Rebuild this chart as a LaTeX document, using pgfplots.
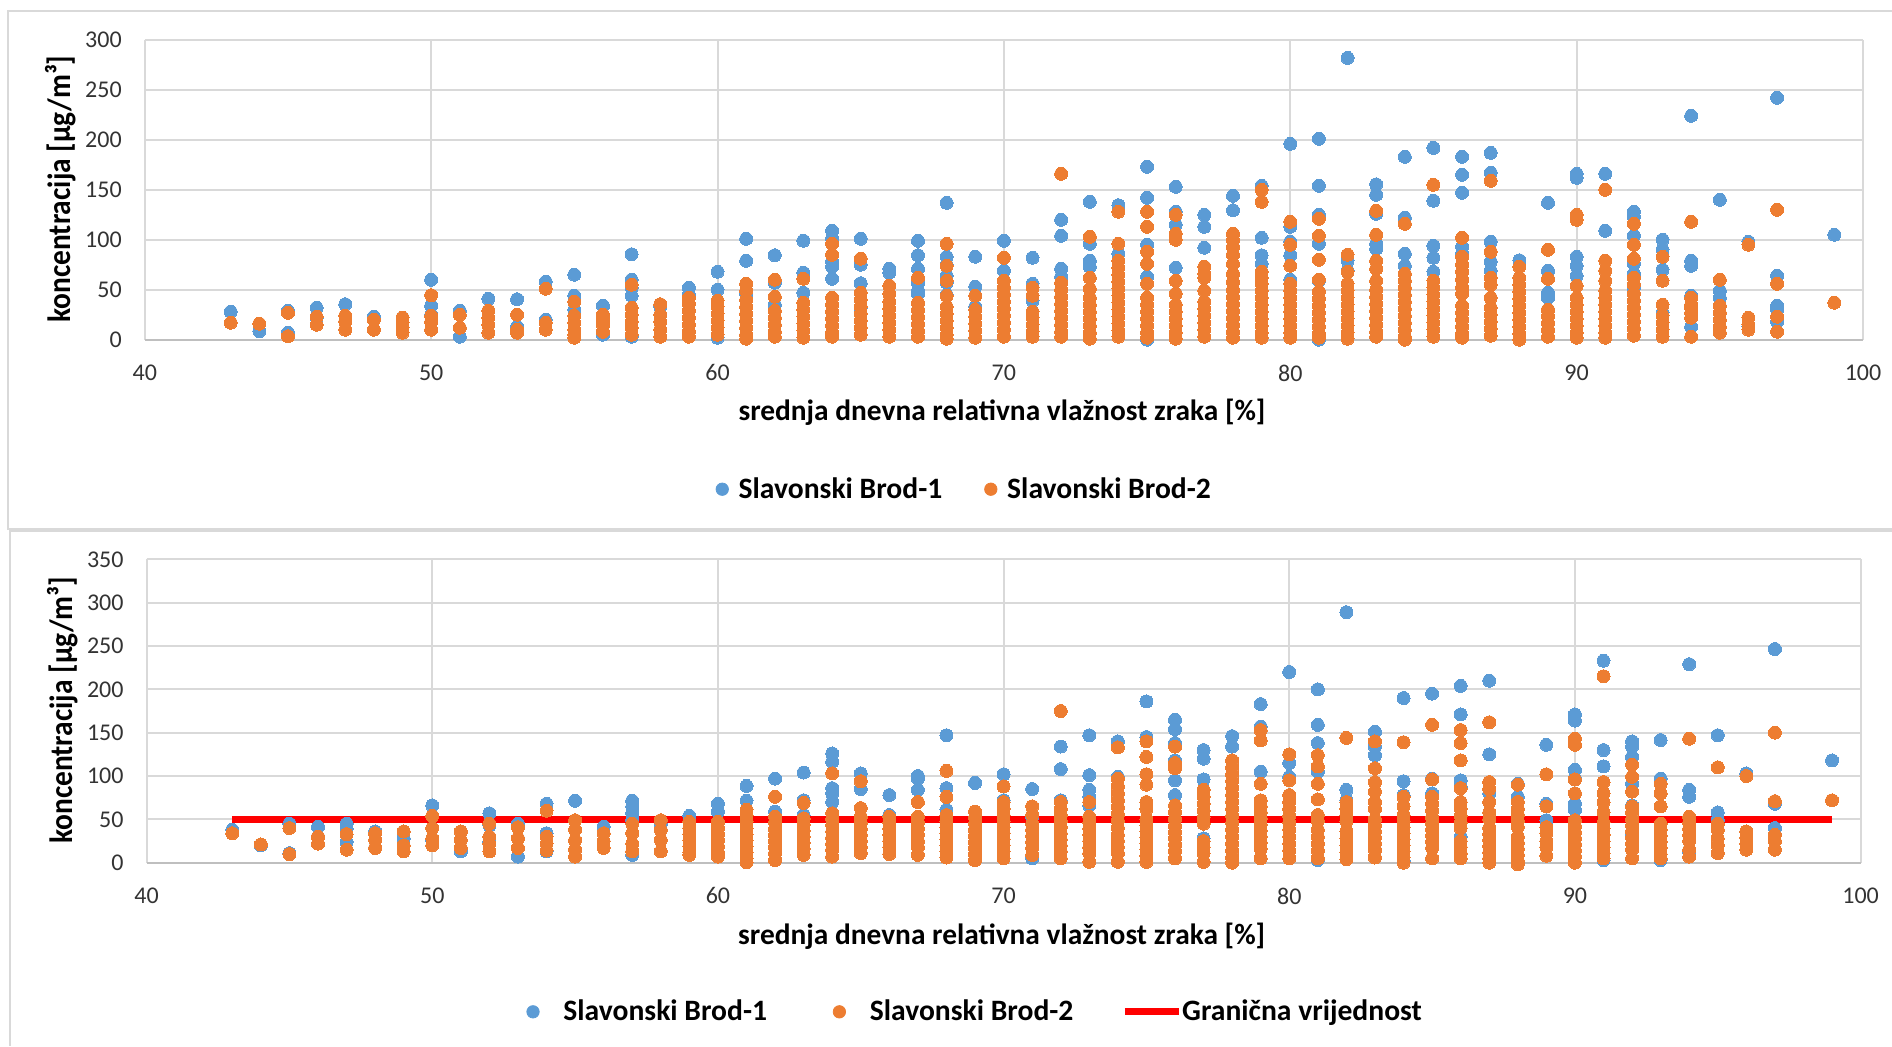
\documentclass[border=0pt]{standalone}
\usepackage{fontspec}
\setmainfont{Carlito}
\usepackage{pgfplots}
\pgfplotsset{compat=1.18}
\definecolor{sb1}{HTML}{5B9BD5}
\definecolor{sb2}{HTML}{ED7D31}
\definecolor{gridc}{HTML}{D9D9D9}
\definecolor{axc}{HTML}{BFBFBF}
\definecolor{tickc}{HTML}{333333}
\pgfplotsset{
  common/.style={
    scale only axis, clip=false,
    xmin=40, xmax=100, xtick={40,50,...,100},
    grid=major, major grid style={gridc,line width=1pt},
    axis line style={draw=none},
    major tick length=0pt,
    tick label style={font=\fontsize{12}{14}\selectfont,text=tickc},
    /pgf/number format/assume math mode=true,
    x tick label style={yshift=-9pt},
    y tick label style={xshift=-8pt},
    xlabel={\fontsize{14.7}{17}\selectfont\bfseries srednja dnevna relativna vlažnost zraka [\%]},
    ylabel={\fontsize{14.7}{17}\selectfont\bfseries koncentracija [µg/m³]},
    legend cell align=left,
    legend style={draw=none,fill=none,font=\fontsize{14.8}{17}\selectfont\bfseries,anchor=center},
  },
  sbA/.style={only marks,mark=*,mark size=3.25pt,forget plot,color=sb1,
    mark options={draw=sb1,fill=sb1,line width=0pt}},
  sbB/.style={only marks,mark=*,mark size=3.25pt,forget plot,color=sb2,
    mark options={draw=sb2,fill=sb2,line width=0pt}},
  dotA/.style={legend image code/.code={\path (0pt,0pt) (#1,0pt); \fill[sb1] (#1/2-1.5pt,0pt) circle (3.1pt);}},
  dotB/.style={legend image code/.code={\path (0pt,0pt) (#1,0pt); \fill[sb2] (#1/2-1.5pt,0pt) circle (3.1pt);}},
}
\begin{document}
\begin{tikzpicture}
\path[use as bounding box] (0,0) rectangle (946pt,523pt);
\draw[gridc,line width=1.2pt] (946pt,517.6pt) -- (4pt,517.6pt) -- (4pt,258.5pt) -- (946pt,258.5pt);
\draw[gridc,line width=1.2pt] (946pt,257.5pt) -- (5pt,257.5pt) -- (5pt,0pt);

\begin{axis}[common,
  at={(72.4pt,353.15pt)},anchor=south west,width=859.1pt,height=149.9pt,
  ymin=0,ymax=300,ytick={0,50,...,300},
  xlabel style={at={(axis description cs:.4989,-.2425)},anchor=center},
  ylabel style={at={(axis description cs:-.0487,.5027)},anchor=center,yscale=1.1},
  legend columns=2,
  legend style={at={(axis description cs:.4775,-.4987)},
    /tikz/every even column/.append style={column sep=19pt}},
]
\addlegendimage{dotA=9pt}
\addlegendentry{Slavonski Brod-1}
\addlegendimage{dotB=9pt}
\addlegendentry{Slavonski Brod-2}
\draw[axc,line width=1pt] (axis cs:40,0) -- (axis cs:100,0);
\addplot[sbA] coordinates {
(43,28)(44,8.5)(45,29)(45,7)(46,32)(46,22)(47,35.5)(47,18)(48,23)(49,22)(50,60)(50,34)(50,25)
(51,29)(51,3)(52,41)(53,40.5)(53,13)(54,58)(54,20)(55,65)(55,44)(55,30)(56,34)(56,5)
(57,85.5)(57,60)(57,52)(57,44)(57,3)(58,33)(59,52)(59,45)(60,68)(60,50)(60,2)
(61,101)(61,79)(61,46)(62,84.5)(62,57)(62,35)(63,99)(63,67)(63,47)(64,109)(64,101)(64,78)(64,73)(64,61)
(65,101)(65,75)(65,56.5)(65,32)(65,5)(66,71)(66,67)(67,99)(67,84.5)(67,71)(67,57)(67,49)(67,46)
(68,137)(68,83)(68,75)(68,64)(68,57)(68,45)(69,83)(69,53)(69,33)(70,99)(70,69)(71,82)(71,56)(71,39)
(72,120)(72,104)(72,71)(72,63)(73,138)(73,96)(73,79)(73,73)(74,134.6)(74,86)
(75,173)(75,142)(75,113)(75,95)(75,63)(75,0)(76,153)(76,128)(76,115)(76,72)(76,46)(77,125)(77,113)(77,92)
(78,144)(78,129.5)(78,106)(79,154)(79,102)(79,84.5)(79,76)(80,196)(80,113)(80,98)(80,84.5)(80,60)
(81,201)(81,154)(81,125)(81,96)(81,59)(81,0)(82,282)(82,79)(82,69)(83,155.5)(83,145)(83,126)(83,96)(83,91)
(84,183)(84,122)(84,86)(84,74)(85,192)(85,139)(85,94)(85,82)(85,68)(86,183)(86,165)(86,147)(86,93)(86,86)
(87,187)(87,167)(87,98)(87,78)(87,69)(88,79.5)(89,137)(89,69)(89,47)(89,42)(89,30)
(90,166)(90,162)(90,83)(90,74)(90,64)(91,166)(91,109)(92,128)(92,123)(92,104)(92,76)(92,66)(92,52)
(93,100)(93,90)(93,70)(93,27)(94,224)(94,79)(94,74)(94,44)(94,13)(95,140)(95,49)(95,42)
(96,98)(96,13)(97,242)(97,64)(97,34)(97,30)(97,18)(99,105)
};
\addplot[sbB] coordinates {
(43,17)(44,16)(45,27)(45,3.5)(46,23)(46,15)(47,24)(47,18)(47,10)(48,20)(48,10)
(49,22)(49,17)(49,12)(49,7)(50,44.5)(50,24)(50,18)(50,10)(51,25)(51,12)(52,29)(52,22)(52,15)(52,7)
(53,25)(53,10)(53,7)(54,51)(54,17)(54,10)(55,38)(55,24)(55,17)(55,10)(55,5)(55,2)
(56,25)(56,20)(56,15)(56,8)(57,55)(57,32)(57,25)(57,18)(57,12)(57,5)(58,35.5)(58,25)(58,18)(58,10)(58,3)
(59,42)(59,36)(59,29)(59,22)(59,15)(59,8)(59,3)(60,39)(60,33)(60,26)(60,19)(60,12)(60,5)
(61,56)(61,49)(61,40)(61,33)(61,26)(61,19)(61,12)(61,5)(61,1)(62,60)(62,43)(62,29)(62,22)(62,15)(62,8)(62,3)
(63,61)(63,37)(63,30)(63,23)(63,16)(63,9)(63,2)(64,96)(64,85)(64,42)(64,35)(64,28)(64,21)(64,14)(64,7)(64,3)
(65,81)(65,47)(65,40)(65,33)(65,26)(65,19)(65,12)(65,5)(66,54)(66,46)(66,38)(66,31)(66,24)(66,17)(66,10)(66,3)
(67,62)(67,37)(67,30)(67,23)(67,16)(67,9)(67,3)(68,96)(68,74)(68,59)(68,44)(68,33)(68,26)(68,19)(68,12)(68,5)(68,1)
(69,44)(69,30)(69,23)(69,16)(69,9)(69,2)(70,82)(70,59)(70,52)(70,45)(70,38)(70,31)(70,24)(70,17)(70,10)(70,3)
(71,52)(71,44)(71,28)(71,22)(71,15)(71,8)(71,3)(72,166)(72,57)(72,50)(72,43)(72,36)(72,29)(72,22)(72,15)(72,8)(72,3)
(73,103)(73,62)(73,51)(73,42)(73,35)(73,28)(73,21)(73,14)(73,7)(73,1)
(74,128)(74,96)(74,79)(74,72)(74,65)(74,58)(74,51)(74,44)(74,37)(74,30)(74,23)(74,16)(74,9)(74,3)
(75,128)(75,113)(75,88)(75,76)(75,56)(75,42)(75,35)(75,28)(75,21)(75,14)(75,7)(75,2)
(76,125)(76,106)(76,100)(76,59)(76,46)(76,35)(76,28)(76,21)(76,14)(76,7)(76,1)
(77,73)(77,66)(77,62)(77,49)(77,38)(77,31)(77,24)(77,17)(77,10)(77,3)
(78,106)(78,100)(78,93)(78,85)(78,76)(78,66)(78,58)(78,50)(78,43)(78,36)(78,29)(78,22)(78,15)(78,8)(78,2)
(79,150)(79,138)(79,68)(79,62)(79,56)(79,49)(79,42)(79,35)(79,28)(79,21)(79,14)(79,7)(79,2)
(80,118)(80,95)(80,74)(80,56)(80,49)(80,42)(80,35)(80,28)(80,21)(80,14)(80,7)(80,2)
(81,121)(81,104)(81,80)(81,60)(81,48)(81,41)(81,34)(81,27)(81,20)(81,13)(81,6)(81,2)
(82,85)(82,68)(82,56)(82,49)(82,42)(82,35)(82,28)(82,21)(82,14)(82,7)(82,1)
(83,129)(83,105)(83,79)(83,71)(83,59)(83,50)(83,43)(83,36)(83,29)(83,22)(83,15)(83,8)(83,3)
(84,116)(84,66)(84,59)(84,52)(84,45)(84,38)(84,31)(84,24)(84,17)(84,10)(84,3)(84,0)
(85,155)(85,59)(85,52)(85,45)(85,38)(85,31)(85,24)(85,17)(85,10)(85,3)
(86,102)(86,83)(86,75)(86,68)(86,60)(86,52)(86,46)(86,34)(86,27)(86,20)(86,13)(86,6)(86,2)
(87,159)(87,88)(87,62)(87,55)(87,42)(87,32)(87,25)(87,18)(87,11)(87,4)
(88,73)(88,62)(88,55)(88,48)(88,41)(88,34)(88,27)(88,20)(88,13)(88,6)(88,0)
(89,90)(89,61)(89,30)(89,24)(89,17)(89,10)(89,3)(90,125)(90,120)(90,54)(90,42)(90,35)(90,28)(90,21)(90,14)(90,7)(90,2)
(91,150)(91,79)(91,69)(91,59)(91,49)(91,42)(91,35)(91,28)(91,21)(91,14)(91,7)(91,2)
(92,116)(92,95)(92,81)(92,62)(92,55)(92,46)(92,39)(92,32)(92,25)(92,18)(92,11)(92,4)
(93,83)(93,59)(93,35)(93,24)(93,17)(93,10)(93,3)(94,118)(94,42)(94,35)(94,32)(94,27)(94,22)(94,3)
(95,60)(95,34)(95,27)(95,20)(95,13)(95,7)(96,95)(96,22)(96,15)(96,10)(97,130)(97,56)(97,23)(97,8)(99,37)
};
\end{axis}

\begin{axis}[common,
  at={(73.3pt,91.65pt)},anchor=south west,width=857pt,height=151.7pt,
  ymin=0,ymax=350,ytick={0,50,...,350},
  xlabel style={at={(axis description cs:.4989,-.2415)},anchor=center},
  ylabel style={at={(axis description cs:-.0487,.5027)},anchor=center,yscale=1.1},
  legend columns=3,
  legend style={at={(axis description cs:.4788,-.4915)},
    /tikz/every even column/.append style={column sep=22pt},
    /tikz/every odd column/.append style={column sep=-2pt}},
]
\addlegendimage{dotA=27pt}
\addlegendentry{Slavonski Brod-1}
\addlegendimage{dotB=27pt}
\addlegendentry{Slavonski Brod-2}
\addlegendimage{legend image code/.code={\draw[red,line width=3.4pt] (0pt,0pt) -- (27pt,0pt);}}
\addlegendentry{Granična vrijednost}
\draw[axc,line width=1pt] (axis cs:40,0) -- (axis cs:100,0);
\addplot[red,line width=3.4pt,forget plot] coordinates {(43,50)(99,50)};
\addplot[sbA] coordinates {
(43,38)(44,20)(45,45)(45,11)(46,41.5)(46,30)(47,45)(47,39)(47,24)(48,36)(48,17)(49,28)(50,66)(50,26)(51,13)
(52,57)(52,43)(52,24)(53,45)(53,28)(53,7)(54,68)(54,34)(54,13)(55,71.5)(56,41.5)(57,71.5)(57,65)(57,57)(57,49)(57,9)
(58,45)(59,54)(60,68)(60,59)(61,88.5)(61,71.5)(62,97)(62,59)(63,104)(63,72)(63,55)(64,126)(64,116.5)(64,86)(64,80)(64,70)
(65,103)(65,85)(66,78)(66,55)(67,100)(67,97)(67,84)(68,147)(68,86)(68,61)(69,92)(70,102)(70,72)(71,85)(71,53)(71,5)
(72,134)(72,108)(72,72)(73,147)(73,101)(73,84)(73,76)(73,66)(74,140)(74,99)(75,186)(75,145)(76,165)(76,154)(76,138)(76,118)(76,95)(76,78)
(77,130)(77,120)(77,96)(77,28)(78,146)(78,134)(79,183)(79,157)(79,105)(80,220)(80,115)(80,99)(81,200)(81,159)(81,138)(81,105)(81,3)
(82,289)(82,84)(82,72)(83,151)(83,134)(83,124)(84,190)(84,94)(84,78)(84,2)(85,195)(85,97)(85,80)(86,204)(86,171)(86,95)(86,88)(86,30)
(87,210)(87,125)(87,80)(88,91)(88,76)(89,136)(89,68)(89,49)(90,171)(90,164)(90,107)(90,97)(90,68)(90,61)
(91,233)(91,130)(91,111)(91,3)(92,140)(92,134)(92,122)(92,91)(92,66)(92,32)(93,141.5)(93,97)(93,3)(94,229)(94,84)(94,76)(94,12)
(95,147)(95,58)(95,49)(96,103)(97,246.5)(97,68)(97,40)(99,118)
};
\addplot[sbB] coordinates {
(43,34)(44,21)(45,40)(45,10)(46,30)(46,22)(47,33)(47,15)(48,34)(48,26)(48,17)(49,36)(49,20)(49,13)
(50,54)(50,40)(50,28)(50,20)(51,36)(51,26)(51,17)(52,45)(52,30)(52,22)(52,13)(53,41)(53,28)(53,17)
(54,60)(54,30)(54,22)(54,14)(55,49)(55,38)(55,26)(55,15)(55,7)(56,34)(56,25)(56,17)(57,45)(57,34)(57,22)(57,13)
(58,49)(58,38)(58,26)(58,13)(59,47)(59,40)(59,33)(59,26)(59,19)(59,12)(59,9)(60,47)(60,40)(60,33)(60,26)(60,19)(60,12)(60,7)
(61,61)(61,54)(61,47)(61,40)(61,33)(61,26)(61,19)(61,12)(61,5)(61,0.5)(62,76)(62,53)(62,46)(62,39)(62,32)(62,25)(62,18)(62,11)(62,3)
(63,69)(63,51)(63,44)(63,37)(63,30)(63,23)(63,16)(63,9)(64,103)(64,57)(64,50)(64,43)(64,36)(64,29)(64,22)(64,15)(64,7)
(65,94)(65,63)(65,53)(65,46)(65,39)(65,32)(65,25)(65,18)(65,11)(66,53)(66,46)(66,39)(66,32)(66,25)(66,18)(66,10)
(67,70)(67,53)(67,46)(67,39)(67,32)(67,25)(67,18)(67,9)(68,106)(68,76)(68,55)(68,48)(68,41)(68,34)(68,27)(68,20)(68,13)(68,6)
(69,59)(69,52)(69,45)(69,38)(69,31)(69,24)(69,17)(69,10)(69,3)(70,88)(70,70)(70,62)(70,55)(70,48)(70,41)(70,34)(70,27)(70,20)(70,13)(70,5)
(71,65)(71,55)(71,45)(71,38)(71,31)(71,24)(71,17)(71,9)(72,175)(72,70)(72,62)(72,55)(72,48)(72,41)(72,34)(72,27)(72,20)(72,13)(72,5)
(73,70)(73,53)(73,46)(73,39)(73,32)(73,25)(73,18)(73,11)(73,1)
(74,133)(74,97)(74,88)(74,80)(74,72)(74,64)(74,56)(74,48)(74,40)(74,32)(74,25)(74,18)(74,11)(74,1)
(75,140)(75,122)(75,102)(75,90)(75,70)(75,62)(75,50)(75,43)(75,36)(75,29)(75,22)(75,15)(75,8)(75,1)
(76,134)(76,115)(76,109)(76,66)(76,58)(76,50)(76,42)(76,35)(76,28)(76,21)(76,14)(76,5)
(77,84)(77,76)(77,68)(77,60)(77,52)(77,45)(77,25)(77,18)(77,11)(77,1)
(78,118)(78,110)(78,102)(78,94)(78,86)(78,78)(78,70)(78,62)(78,54)(78,46)(78,38)(78,30)(78,22)(78,14)(78,6)(78,0)
(79,153)(79,141)(79,91)(79,72)(79,65)(79,58)(79,51)(79,44)(79,37)(79,30)(79,23)(79,16)(79,5)
(80,125)(80,95)(80,78)(80,70)(80,62)(80,54)(80,46)(80,38)(80,30)(80,22)(80,14)(80,5)
(81,124)(81,111)(81,91)(81,73)(81,55)(81,48)(81,38)(81,30)(81,22)(81,14)(81,5)
(82,144)(82,70)(82,62)(82,55)(82,48)(82,36)(82,28)(82,20)(82,12)(82,4)
(83,140)(83,109)(83,93)(83,82)(83,70)(83,62)(83,50)(83,43)(83,36)(83,29)(83,22)(83,15)(83,6)
(84,139)(84,76)(84,65)(84,55)(84,48)(84,41)(84,34)(84,27)(84,20)(84,13)(84,6)(84,0)
(85,159)(85,96)(85,76)(85,68)(85,60)(85,52)(85,45)(85,38)(85,31)(85,24)(85,17)(85,5)
(86,153)(86,138)(86,118)(86,86)(86,70)(86,62)(86,54)(86,46)(86,40)(86,25)(86,18)(86,11)(86,5)
(87,162)(87,93)(87,85)(87,70)(87,58)(87,50)(87,40)(87,33)(87,26)(87,19)(87,12)(87,5)(87,0)
(88,90)(88,70)(88,62)(88,55)(88,48)(88,41)(88,30)(88,23)(88,16)(88,9)(88,2)(88,-2)
(89,102)(89,65)(89,41)(89,34)(89,25)(89,18)(89,8)(90,143)(90,136)(90,96)(90,80)(90,49)(90,42)(90,35)(90,28)(90,21)(90,14)(90,7)(90,0)
(91,215)(91,93)(91,80)(91,70)(91,58)(91,46)(91,39)(91,32)(91,25)(91,18)(91,11)(91,5)
(92,113)(92,99)(92,82)(92,65)(92,58)(92,50)(92,43)(92,36)(92,29)(92,22)(92,15)(92,5)
(93,91)(93,80)(93,65)(93,45)(93,38)(93,31)(93,24)(93,17)(93,10)(93,5)
(94,143)(94,53)(94,46)(94,39)(94,32)(94,25)(94,15)(94,7)(95,110)(95,45)(95,38)(95,28)(95,20)(95,11)
(96,100)(96,36)(96,29)(96,22)(96,15)(97,150)(97,71)(97,32)(97,25)(97,15)(99,72)
};
\end{axis}
\end{tikzpicture}
\end{document}
